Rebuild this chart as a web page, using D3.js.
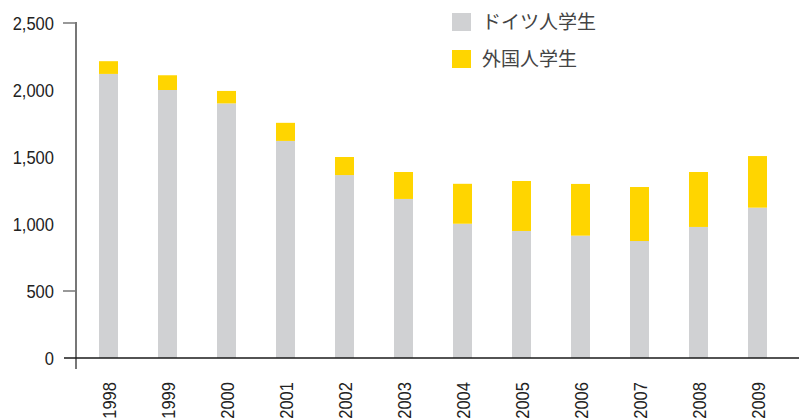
<!DOCTYPE html>
<html>
<head>
<meta charset="utf-8">
<script src="https://cdn.jsdelivr.net/npm/d3@7"></script>
<style>
  body { margin: 0; background: #fff; }
  svg { display: block; }
  .num { font-family: "Liberation Sans", Arial, sans-serif; font-size: 19px; fill: #222; }
  .leg { font-family: "Noto Sans CJK JP", sans-serif; font-size: 19px; fill: #444; }
</style>
</head>
<body>
<div id="chart"></div>
<script>
// data
const years = ['1998', '1999', '2000', '2001', '2002', '2003', '2004', '2005', '2006', '2007', '2008', '2009'];
const german = [2120, 2000, 1900, 1620, 1365, 1187, 1002, 948, 913, 873, 978, 1122];
const foreign = [95, 110, 93, 135, 135, 201, 298, 373, 386, 403, 410, 385];
const yTicks = [0, 500, 1000, 1500, 2000, 2500];
const tickMarks = [500, 2500];
const seriesNames = ['ドイツ人学生', '外国人学生'];
const colors = ['#d0d1d3', '#ffd500'];

const width = 799, height = 420;
const narrow = 0.87; // squeeze numbers to look condensed

const svg = d3.select('#chart').append('svg')
    .attr('width', width)
    .attr('height', height);

const y = d3.scaleLinear().domain([0, 2500]).range([358, 23]);
const x = d3.scaleBand().domain(years).range([79, 787]).padding(0);
const barW = 19;

// stacked bars
const rows = years.map(function(yr, i) {
    return { year: yr, german: german[i], foreign: foreign[i] };
});
const stack = d3.stack().keys(['german', 'foreign'])(rows);

svg.selectAll('.layer')
    .data(stack)
    .enter().append('g')
    .attr('class', 'layer')
    .attr('fill', function(d, i) { return colors[i]; })
    .selectAll('rect')
    .data(function(d) { return d; })
    .enter().append('rect')
    .attr('x', function(d) { return x(d.data.year) + (x.bandwidth() - barW) / 2; })
    .attr('width', barW)
    .attr('y', function(d) { return y(d[1]); })
    .attr('height', function(d) { return y(d[0]) - y(d[1]); });

// y axis line
svg.append('line')
    .attr('x1', 76).attr('x2', 76)
    .attr('y1', y(2500) - 1).attr('y2', 369)
    .attr('stroke', '#777').attr('stroke-width', 2);

svg.selectAll('.ytick')
    .data(tickMarks)
    .enter().append('line')
    .attr('x1', 63).attr('x2', 76)
    .attr('y1', function(d) { return y(d); })
    .attr('y2', function(d) { return y(d); })
    .attr('stroke', '#777').attr('stroke-width', 1.5);

svg.selectAll('.ylab')
    .data(yTicks)
    .enter().append('text')
    .attr('class', 'num')
    .attr('text-anchor', 'end')
    .attr('dy', '0.35em')
    .attr('transform', function(d) {
        return 'translate(54,' + y(d) + ') scale(' + narrow + ',1)';
    })
    .text(function(d) { return d3.format(',')(d); });

// x axis baseline
svg.append('line')
    .attr('x1', 64).attr('x2', width)
    .attr('y1', y(0)).attr('y2', y(0))
    .attr('stroke', '#1a1a1a').attr('stroke-width', 1.6);

svg.selectAll('.xlab')
    .data(years)
    .enter().append('text')
    .attr('class', 'num')
    .attr('text-anchor', 'end')
    .attr('transform', function(d) {
        return 'translate(' + (x(d) + x.bandwidth() / 2 + 7) + ',382) rotate(-90) scale(' + narrow + ',1)';
    })
    .text(function(d) { return d; });

// legend
const leg = svg.selectAll('.legend')
    .data(seriesNames)
    .enter().append('g')
    .attr('class', 'legend')
    .attr('transform', function(d, i) { return 'translate(452,' + (13 + i * 37) + ')'; });

leg.append('rect')
    .attr('width', 19).attr('height', 18)
    .attr('fill', function(d, i) { return colors[i]; });

leg.append('text')
    .attr('class', 'leg')
    .attr('x', 30)
    .attr('y', 9)
    .attr('dy', '0.35em')
    .text(function(d) { return d; });
</script>
</body>
</html>
